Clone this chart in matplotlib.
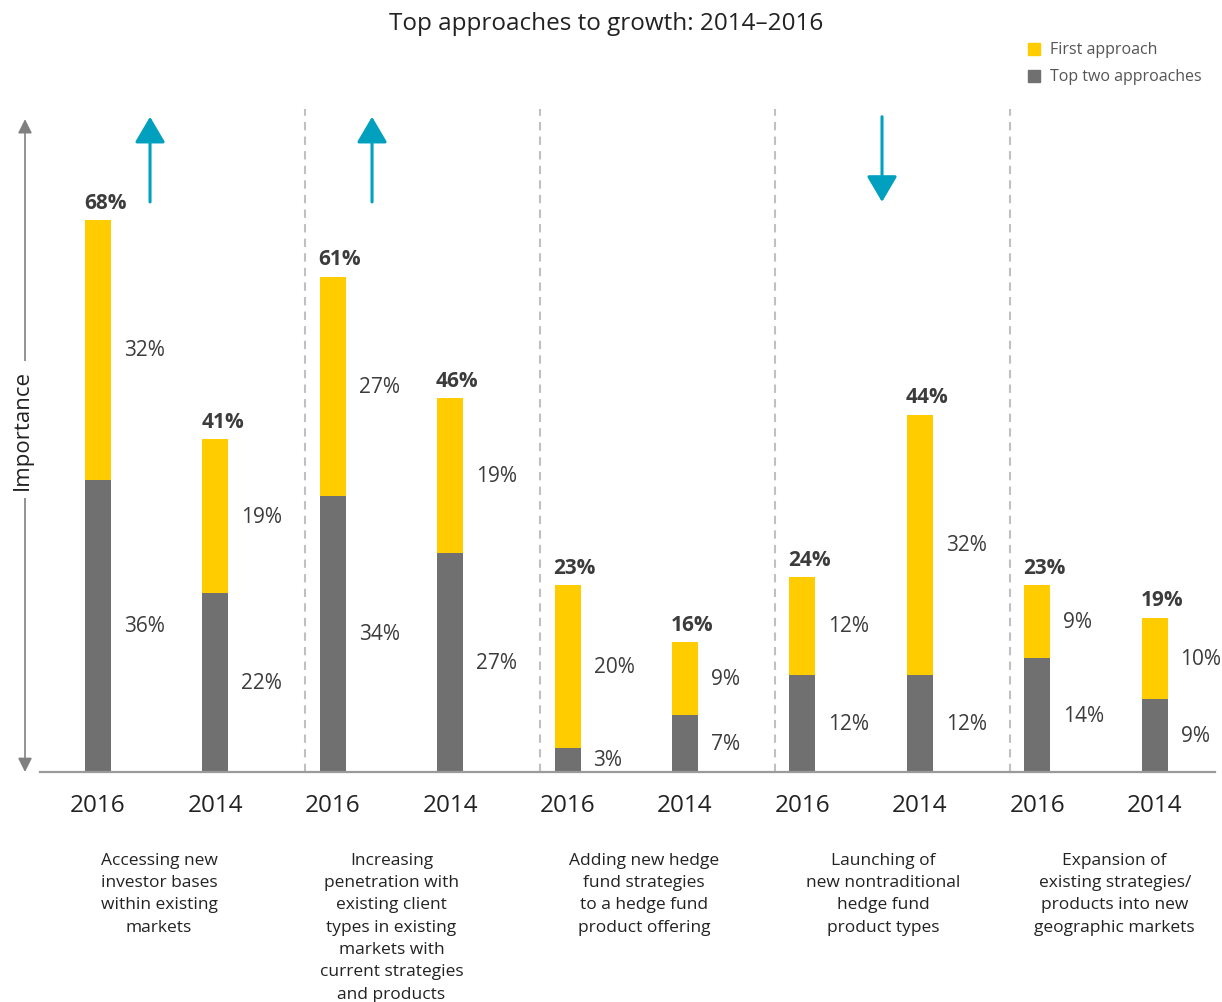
import numpy as np
import matplotlib.pyplot as plt
from matplotlib.patches import Rectangle

plt.rcParams['font.family'] = ['Open Sans', 'DejaVu Sans']

# data: share of respondents, top-two (gray) and first approach (yellow)
years = ["2016", "2014"]
categories = [
    "Accessing new\ninvestor bases\nwithin existing\nmarkets",
    "Increasing\npenetration with\nexisting client\ntypes in existing\nmarkets with\ncurrent strategies\nand products",
    "Adding new hedge\nfund strategies\nto a hedge fund\nproduct offering",
    "Launching of\nnew nontraditional\nhedge fund\nproduct types",
    "Expansion of\nexisting strategies/\nproducts into new\ngeographic markets",
]
top_two = [36, 22, 34, 27, 3, 7, 12, 12, 14, 9]
first = [32, 19, 27, 19, 20, 9, 12, 32, 9, 10]
trend = ["up", "up", None, "down", None]

yellow = "#FFCC00"
gray = "#707070"
teal = "#00A0BE"
txt = "#3c3c3c"

fig = plt.figure(figsize=(12.22, 10.03), dpi=100)
ax = fig.add_axes([0, 230 / 1003, 1, 673 / 1003])
ax.set_xlim(-0.835, 9.574)
ax.set_ylim(0, 82.88)
ax.axis("off")

pos = np.arange(len(top_two))
w = 0.2215
top_two = np.array(top_two)
first = np.array(first)
total = top_two + first

ax.bar(pos, top_two, w, color=gray, zorder=3)
ax.bar(pos, first, w, bottom=top_two, color=yellow, zorder=3)

# value labels
for p, g, f, t in zip(pos, top_two, first, total):
    ax.text(p + w / 2 + 0.11, g / 2, f"{g}%", ha="left", va="center",
            fontsize=15, color=txt)
    ax.text(p + w / 2 + 0.11, g + f / 2, f"{f}%", ha="left", va="center",
            fontsize=15, color=txt)
    ax.text(p - w / 2 - 0.01, t + 0.9, f"{t}%", ha="left", va="bottom",
            fontsize=15, fontweight="bold", color=txt)

# baseline
ax.axhline(0, xmin=40 / 1222, xmax=1215 / 1222, color="#9a9a9a", lw=1.6,
           zorder=4, clip_on=False)

# dashed separators between groups
for g in range(len(categories) - 1):
    ax.plot([2 * g + 1.765] * 2, [0, 81.6], color="#c0c0c0", lw=1.5,
            ls=(0, (4, 3)), zorder=1)

# year and category labels under the bars
for p in pos:
    ax.text(p, -4.1, years[p % 2], ha="center", va="center", fontsize=17.5,
            color="#222222", clip_on=False)
shift = [0.02, 0.0, 0.15, 0.19, 0.16]
for g, lab in enumerate(categories):
    ax.text(2 * g + 0.5 + shift[g], -9.8, lab, ha="center", va="top",
            fontsize=12.5, color="#222222",
            linespacing=1.53, clip_on=False)

# trend arrows
arrow_dx = [0.443, 0.334, 0, 0.678, 0]
for g, d in enumerate(trend):
    if d is None:
        continue
    x = 2 * g + arrow_dx[g]
    y0, y1 = (70.2, 80.7) if d == "up" else (80.7, 70.2)
    ax.annotate("", xy=(x, y1), xytext=(x, y0),
                arrowprops=dict(arrowstyle="-|>,head_width=0.47,head_length=0.8",
                                mutation_scale=20, color=teal, lw=2.2,
                                shrinkA=0, shrinkB=0))

# importance axis on the left
ax.annotate("", xy=(25 / 1222, 80.4 / 82.88), xytext=(25 / 1222, 0),
            xycoords="axes fraction", textcoords="axes fraction",
            arrowprops=dict(arrowstyle="<|-|>,head_width=0.3,head_length=0.6",
                            mutation_scale=14, color="#808080", lw=1.2,
                            shrinkA=0, shrinkB=0))
ax.text(-0.645, 42.2, "Importance", rotation=90, ha="center", va="center",
        fontsize=16, color="#222222",
        bbox=dict(facecolor="white", edgecolor="none", pad=6))

fig.text(0.496, 0.976, "Top approaches to growth: 2014\u20132016", ha="center",
         va="center", fontsize=17.5, color="#222222")

# legend
for yb, yt, col, lab in [(0.9442, 0.9502, yellow, "First approach"),
                         (0.9173, 0.9232, gray, "Top two approaches")]:
    fig.add_artist(Rectangle((0.8412, yb), 0.00982, 0.01196, color=col,
                             transform=fig.transFigure))
    fig.text(0.8592, yt, lab, ha="left", va="center", fontsize=11.5,
             color="#555555")

fig.savefig("out.png", dpi=100, facecolor="white")
